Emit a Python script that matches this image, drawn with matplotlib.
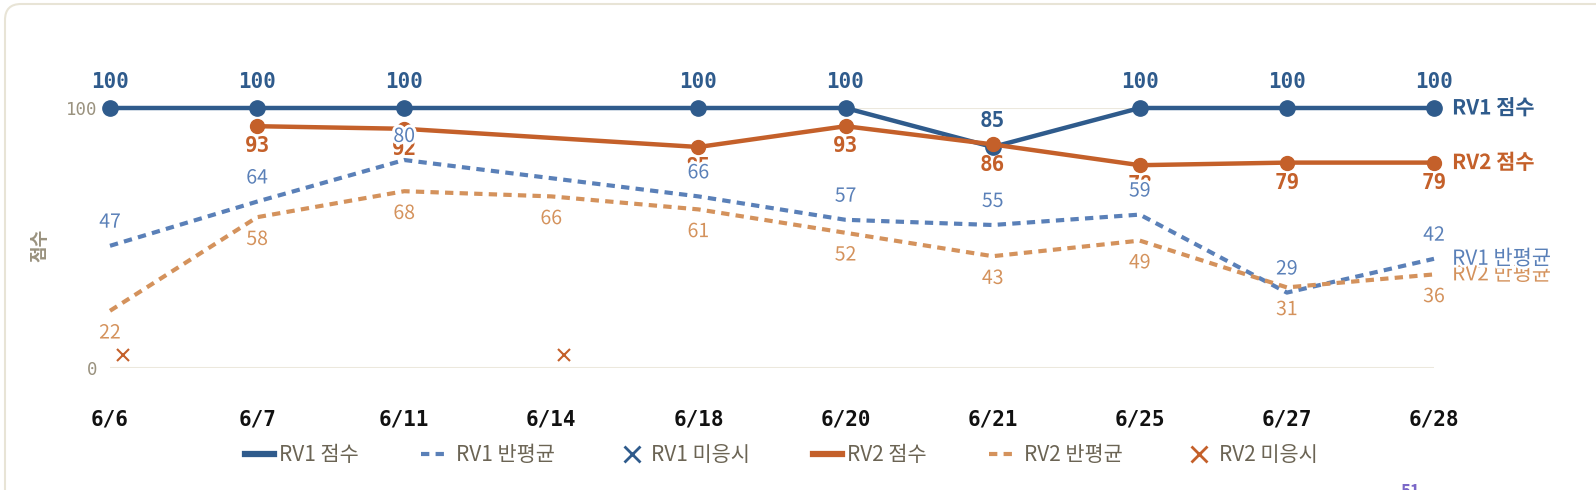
import matplotlib
matplotlib.use("Agg")
import matplotlib.pyplot as plt
import matplotlib.patheffects as pe
import matplotlib.transforms as mtransforms
from matplotlib.lines import Line2D
from matplotlib.patches import FancyBboxPatch
import numpy as np

plt.rcParams['font.family'] = ['Noto Sans CJK KR', 'DejaVu Sans']

# 데이터
dates = ['6/6', '6/7', '6/11', '6/14', '6/18', '6/20', '6/21', '6/25', '6/27', '6/28']
rv1_score = [100, 100, 100, None, 100, 100, 85, 100, 100, 100]
rv1_avg = [47, 64, 80, None, 66, 57, 55, 59, 29, 42]
rv2_score = [None, 93, 92, None, 85, 93, 86, 78, 79, 79]
rv2_avg = [22, 58, 68, 66, 61, 52, 43, 49, 31, 36]
rv1_absent = []
rv2_absent = ['6/6', '6/14']

C_RV1 = '#2f5b8c'
C_RV1_AVG = '#5a80b8'
C_RV2 = '#c4602a'
C_RV2_AVG = '#d4925c'
C_GRAY = '#9a927f'
C_LEGEND = '#6b6454'

W, H = 1596, 490
fig = plt.figure(figsize=(W / 100, H / 100), dpi=100)

# 카드 테두리 (픽셀 좌표)
card = FancyBboxPatch((5, -60), 1700, H - 4 + 60,
                      boxstyle="round,pad=0,rounding_size=16",
                      transform=mtransforms.IdentityTransform(), facecolor='none',
                      edgecolor='#e8e4d6', linewidth=1.5, zorder=-1)
fig.patches.append(card)

ax = fig.add_axes([110 / W, (H - 368) / H, (1434 - 110) / W, (368 - 108) / H])
ax.set_facecolor('none')
x = np.arange(len(dates))


def series(vals):
    xs = [i for i, v in enumerate(vals) if v is not None]
    ys = [v for v in vals if v is not None]
    return xs, ys


halo = [pe.withStroke(linewidth=4, foreground='white')]
DASH = (2.0, 1.5)

# 반평균 (점선)
for vals, col in [(rv1_avg, C_RV1_AVG), (rv2_avg, C_RV2_AVG)]:
    xs, ys = series(vals)
    ax.plot(xs, ys, color=col, lw=3, dashes=DASH, zorder=2, clip_on=False)

# 점수 (실선)
for vals, col, ms in [(rv1_score, C_RV1, 11), (rv2_score, C_RV2, 10)]:
    xs, ys = series(vals)
    ax.plot(xs, ys, color=col, lw=3.2, marker='o', ms=ms, zorder=3, clip_on=False)

# 점수 라벨
for vals, col, dy in [(rv1_score, C_RV1, 18.5), (rv2_score, C_RV2, -14.5)]:
    xs, ys = series(vals)
    for xi, yi in zip(xs, ys):
        ax.annotate(str(yi), (xi, yi), xytext=(0, dy), textcoords='offset points',
                    ha='center', va='center', fontsize=15, fontweight='bold',
                    family='DejaVu Sans Mono', color=col, zorder=4,
                    annotation_clip=False)

# 반평균 라벨
for vals, col, dy in [(rv2_avg, C_RV2_AVG, -16), (rv1_avg, C_RV1_AVG, 17)]:
    xs, ys = series(vals)
    for xi, yi in zip(xs, ys):
        ax.annotate(str(yi), (xi, yi), xytext=(0, dy), textcoords='offset points',
                    ha='center', va='center', fontsize=14, fontweight='medium',
                    color=col, zorder=5, path_effects=halo, annotation_clip=False)

# 미응시 표시
shift = mtransforms.offset_copy(ax.transData, fig=fig, x=9, y=0, units='points')
for absent, col in [(rv1_absent, C_RV1), (rv2_absent, C_RV2)]:
    xs = [dates.index(d) for d in absent]
    ax.plot(xs, [5] * len(xs), linestyle='none', marker='x', ms=8, mew=1.5,
            color=col, transform=shift, zorder=3, clip_on=False)

# 끝 라벨
ends = [(rv2_avg, 'RV2 반평균', C_RV2_AVG, 'medium'),
        (rv1_avg, 'RV1 반평균', C_RV1_AVG, 'medium'),
        (rv1_score, 'RV1 점수', C_RV1, 'bold'),
        (rv2_score, 'RV2 점수', C_RV2, 'bold')]
for vals, name, col, fw in ends:
    ax.annotate(name, (len(dates) - 1, vals[-1]), xytext=(13, 0), textcoords='offset points',
                ha='left', va='center', fontsize=15, fontweight=fw, color=col,
                path_effects=halo, zorder=6, annotation_clip=False)

ax.set_xlim(0, len(dates) - 1)
ax.set_ylim(0, 100)
ax.set_xticks(x)
ax.set_xticklabels(dates, family='DejaVu Sans Mono', fontweight='bold', fontsize=15, color='#111111')
ax.set_yticks([0, 100])
ax.set_yticklabels(['0', '100'], family='DejaVu Sans Mono', fontsize=12.5, color=C_GRAY)
ax.tick_params(axis='x', length=0, pad=30)
ax.tick_params(axis='y', length=0, pad=9)
ax.grid(True, axis='y', color='#ece8dd', lw=1.5, zorder=0)
for s in ax.spines.values():
    s.set_visible(False)

fig.text(40 / W, 1 - 245 / H, '점수', rotation=90, ha='center', va='center',
         fontsize=13, color=C_GRAY, fontweight='bold')

handles = [
    Line2D([], [], color=C_RV1, lw=4.5),
    Line2D([], [], color=C_RV1_AVG, lw=3, dashes=DASH),
    Line2D([], [], color=C_RV1, linestyle='none', marker='x', ms=11, mew=2),
    Line2D([], [], color=C_RV2, lw=4.5),
    Line2D([], [], color=C_RV2_AVG, lw=3, dashes=DASH),
    Line2D([], [], color=C_RV2, linestyle='none', marker='x', ms=11, mew=2),
]
labels = ['RV1 점수', 'RV1 반평균', 'RV1 미응시', 'RV2 점수', 'RV2 반평균', 'RV2 미응시']
leg = ax.legend(handles, labels, loc='center', bbox_to_anchor=(0.507, -0.335), ncol=6,
                frameon=False, handlelength=1.4, handletextpad=0.25,
                columnspacing=3.0, prop={'size': 15, 'weight': 'medium'})
for t in leg.get_texts():
    t.set_color(C_LEGEND)

fig.text(1410 / W, 1 - 492 / H, '51', ha='center', va='center', fontsize=12,
         color='#7b68c8', fontweight='bold')

fig.savefig('out.png', dpi=100)
